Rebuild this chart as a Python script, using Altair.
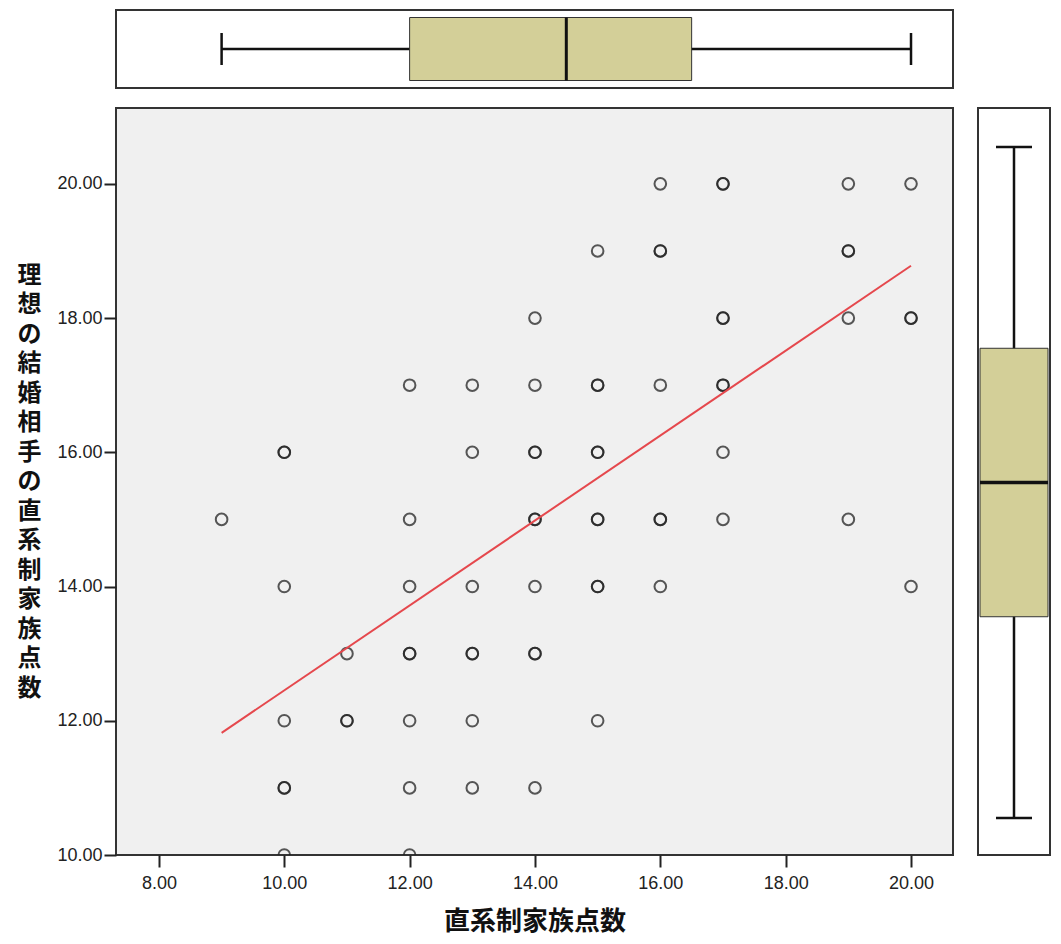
import altair as alt
import pandas as pd

# ---- data ----
# scatter points (x, y) - duplicates listed twice
pt_x = [16, 17, 17, 19, 20,
        15, 16, 16, 19, 19,
        14, 17, 17, 19, 20, 20,
        12, 13, 14, 15, 15, 16, 17, 17,
        10, 10, 13, 14, 14, 15, 15, 17,
        9, 12, 14, 14, 15, 15, 16, 16, 17, 19,
        10, 12, 13, 14, 15, 15, 16, 20,
        11, 12, 12, 13, 13, 14, 14,
        10, 11, 11, 12, 13, 15,
        10, 10, 12, 13, 14,
        10, 12]
pt_y = [20, 20, 20, 20, 20,
        19, 19, 19, 19, 19,
        18, 18, 18, 18, 18, 18,
        17, 17, 17, 17, 17, 17, 17, 17,
        16, 16, 16, 16, 16, 16, 16, 16,
        15, 15, 15, 15, 15, 15, 15, 15, 15, 15,
        14, 14, 14, 14, 14, 14, 14, 14,
        13, 13, 13, 13, 13, 13, 13,
        12, 12, 12, 12, 12, 12,
        11, 11, 11, 11, 11,
        10, 10]

# fitted line end points
fit_x = [9, 20]
fit_y = [11.82, 18.78]

# marginal box plot summaries: min, q1, median, q3, max
top_box = [9, 12, 14.5, 16.5, 20]
right_box = [10, 13, 15, 17, 20]

x_ticks = [8, 10, 12, 14, 16, 18, 20]
y_ticks = [10, 12, 14, 16, 18, 20]
x_title = "直系制家族点数"
y_title = "理想の結婚相手の直系制家族点数"

x_domain = [7.315, 20.67]
y_domain = [10, 21.13]
right_domain = [9.45, 20.58]

pts = pd.DataFrame({"x": pt_x, "y": pt_y})
fit = pd.DataFrame({"x": fit_x, "y": fit_y})
tb = pd.DataFrame([dict(cat="a", mn=top_box[0], q1=top_box[1], md=top_box[2], q3=top_box[3], mx=top_box[4])])
rb = pd.DataFrame([dict(cat="a", mn=right_box[0], q1=right_box[1], md=right_box[2], q3=right_box[3], mx=right_box[4])])

LABEL_FONT = "Liberation Sans"
TITLE_FONT = "Noto Sans CJK JP"
BOX_FILL = "#d3cf98"

xscale = alt.Scale(domain=x_domain, nice=False, zero=False)
yscale = alt.Scale(domain=y_domain, nice=False, zero=False)

x_axis = alt.Axis(values=x_ticks, format=".2f", title=x_title, grid=False, domain=False,
                  tickColor="#222", tickWidth=2, tickSize=12,
                  labelFont=LABEL_FONT, labelFontSize=18, labelColor="#222", labelPadding=7,
                  titleFont=TITLE_FONT, titleFontSize=26, titleFontWeight="bold", titleColor="#111",
                  titleY=66, titleBaseline="middle")
y_axis = alt.Axis(values=y_ticks, format=".2f", title=list(y_title), grid=False, domain=False,
                  tickColor="#222", tickWidth=2, tickSize=12,
                  labelFont=LABEL_FONT, labelFontSize=18, labelColor="#222", labelPadding=2,
                  titleFont=TITLE_FONT, titleFontSize=24, titleFontWeight="bold", titleColor="#111",
                  titleAngle=0, titleLineHeight=29.5, titleX=-87, titleY=167,
                  titleAlign="center", titleBaseline="middle")

points = alt.Chart(pts).mark_point(shape="circle", filled=False, size=135, strokeWidth=2,
                                   color="#222", opacity=0.75, clip=True).encode(
    x=alt.X("x:Q", scale=xscale, axis=x_axis),
    y=alt.Y("y:Q", scale=yscale, axis=y_axis),
)
line = alt.Chart(fit).mark_line(color="#e5484d", strokeWidth=2).encode(
    x=alt.X("x:Q", scale=xscale),
    y=alt.Y("y:Q", scale=yscale),
)
main = alt.layer(points, line).properties(
    width=837, height=747,
    view=alt.ViewBackground(fill="#f0f0f0", stroke="#333", strokeWidth=2),
)

# top box plot
tx = alt.Scale(domain=x_domain, nice=False, zero=False)
tbase = alt.Chart(tb).encode(y=alt.Y("cat:N", axis=None))
t_whisk = tbase.mark_rule(color="#111", strokeWidth=2.5).encode(
    x=alt.X("mn:Q", scale=tx, axis=None), x2="mx:Q")
t_box = tbase.mark_bar(size=63, fill=BOX_FILL, stroke="#333", strokeWidth=1).encode(
    x=alt.X("q1:Q", scale=tx, axis=None), x2="q3:Q")
t_med = tbase.mark_tick(size=63, thickness=3, color="#111", opacity=1).encode(
    x=alt.X("md:Q", scale=tx, axis=None))
t_cap1 = tbase.mark_tick(size=32, thickness=2.5, color="#111", opacity=1).encode(
    x=alt.X("mn:Q", scale=tx, axis=None))
t_cap2 = tbase.mark_tick(size=32, thickness=2.5, color="#111", opacity=1).encode(
    x=alt.X("mx:Q", scale=tx, axis=None))
top = alt.layer(t_whisk, t_box, t_med, t_cap1, t_cap2).properties(
    width=837, height=78,
    view=alt.ViewBackground(fill="white", stroke="#333", strokeWidth=2),
)

# right box plot
ry = alt.Scale(domain=right_domain, nice=False, zero=False)
rbase = alt.Chart(rb).encode(x=alt.X("cat:N", axis=None))
r_whisk = rbase.mark_rule(color="#111", strokeWidth=2.5).encode(
    y=alt.Y("mn:Q", scale=ry, axis=None), y2="mx:Q")
r_box = rbase.mark_bar(size=68, fill=BOX_FILL, stroke="#333", strokeWidth=1).encode(
    y=alt.Y("q1:Q", scale=ry, axis=None), y2="q3:Q")
r_med = rbase.mark_tick(size=68, thickness=3.5, color="#111", opacity=1).encode(
    y=alt.Y("md:Q", scale=ry, axis=None))
r_cap1 = rbase.mark_tick(size=36, thickness=2.5, color="#111", opacity=1).encode(
    y=alt.Y("mn:Q", scale=ry, axis=None))
r_cap2 = rbase.mark_tick(size=36, thickness=2.5, color="#111", opacity=1).encode(
    y=alt.Y("mx:Q", scale=ry, axis=None))
right = alt.layer(r_whisk, r_box, r_med, r_cap1, r_cap2).properties(
    width=72, height=747,
    view=alt.ViewBackground(fill="white", stroke="#333", strokeWidth=2),
)

chart = alt.vconcat(
    top,
    alt.hconcat(main, right, spacing=23),
    spacing=18,
).resolve_scale(x="independent", y="independent").properties(
    padding={"left": 8, "top": 1, "right": 0, "bottom": 0},
    background="white",
)

chart.save("out.html", embed_options={"renderer": "svg", "actions": False})
